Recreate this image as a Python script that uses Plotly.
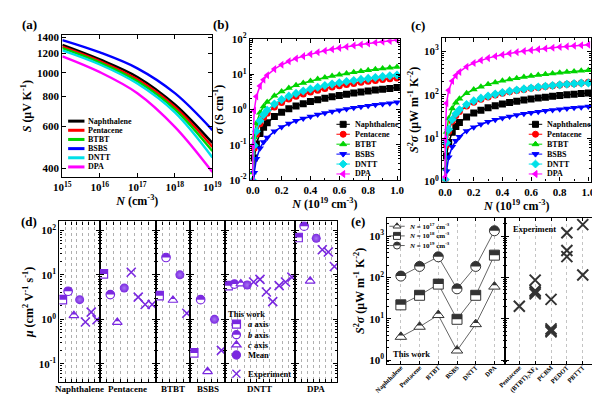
import math
import plotly.graph_objects as go

W, H = 600, 394
PURPLE = "#7a28e0"
DARK = "#333333"

# ---------------- data ----------------
materials = ["Naphthalene", "Pentacene", "BTBT", "BSBS", "DNTT", "DPA"]

# (a) Seebeck coefficient (uV/K) vs carrier concentration (cm^-3)
N_a = [1e15, 1e16, 1e17, 1e18, 1e19]
S_naphthalene = [1304, 1135, 960, 738, 511]
S_pentacene = [1283, 1117, 938, 721, 492]
S_btbt = [1264, 1101, 921, 705, 473]
S_bsbs = [1365, 1213, 1042, 822, 578]
S_dntt = [1237, 1081, 901, 684, 445]
S_dpa = [1169, 1005, 822, 596, 387]

# (b), (c) carrier concentration in 1e19 cm^-3
N_bc = [0.0001, 0.001, 0.01, 0.025, 0.05, 0.075, 0.1, 0.15, 0.2, 0.25, 0.3, 0.35, 0.4,
        0.45, 0.5, 0.55, 0.6, 0.65, 0.7, 0.75, 0.8, 0.85, 0.9, 0.95, 1.0]
# (b) conductivity (S/cm)
sigma_naphthalene = [0.00042, 0.0042, 0.042, 0.105, 0.21, 0.315, 0.42, 0.63, 0.84, 1.05, 1.26, 1.47, 1.68,
                     1.89, 2.1, 2.31, 2.52, 2.73, 2.94, 3.15, 3.36, 3.57, 3.78, 3.99, 4.2]
sigma_pentacene = [0.00079, 0.0079, 0.079, 0.198, 0.395, 0.593, 0.79, 1.19, 1.58, 1.98, 2.37, 2.77, 3.16,
                   3.56, 3.95, 4.35, 4.74, 5.14, 5.53, 5.93, 6.32, 6.72, 7.11, 7.51, 7.9]
sigma_btbt = [0.00163, 0.0163, 0.163, 0.408, 0.815, 1.22, 1.63, 2.45, 3.26, 4.08, 4.89, 5.71, 6.52,
              7.34, 8.15, 8.97, 9.78, 10.6, 11.4, 12.2, 13.0, 13.9, 14.7, 15.5, 16.3]
sigma_bsbs = [0.00016, 0.0016, 0.016, 0.04, 0.08, 0.12, 0.16, 0.24, 0.32, 0.4, 0.48, 0.56, 0.64,
              0.72, 0.8, 0.88, 0.96, 1.04, 1.12, 1.2, 1.28, 1.36, 1.44, 1.52, 1.6]
sigma_dntt = [0.00096, 0.0096, 0.096, 0.24, 0.48, 0.72, 0.96, 1.44, 1.92, 2.4, 2.88, 3.36, 3.84,
              4.32, 4.8, 5.28, 5.76, 6.24, 6.72, 7.2, 7.68, 8.16, 8.64, 9.12, 9.6]
sigma_dpa = [0.0094, 0.094, 0.94, 2.35, 4.7, 7.05, 9.4, 14.1, 18.8, 23.5, 28.2, 32.9, 37.6,
             42.3, 47.0, 51.7, 56.4, 61.1, 65.8, 70.5, 75.2, 79.9, 84.6, 89.3, 94.0]
# (c) power factor (uW m^-1 K^-2)
pf_naphthalene = [0.071, 0.54, 3.87, 7.98, 13.6, 18.5, 22.9, 30.7, 37.7, 44.1, 50.0, 55.6, 60.7,
                  65.8, 70.4, 75.1, 79.3, 83.5, 87.6, 91.5, 95.5, 99.1, 102.6, 106.2, 109.7]
pf_pentacene = [0.13, 0.99, 6.95, 14.3, 24.4, 33.2, 41.1, 54.9, 67.2, 78.4, 88.8, 98.2, 107.4,
                116.1, 124.3, 132.2, 139.8, 147.0, 153.9, 160.6, 167.0, 173.3, 179.5, 185.4, 193.0]
pf_btbt = [0.26, 1.98, 13.8, 28.4, 48.3, 65.5, 81.0, 107.9, 131.5, 153.0, 172.7, 191.1, 208.4,
           224.7, 240.1, 255.0, 269.0, 282.5, 295.6, 308.1, 320.2, 332.0, 343.2, 354.0, 364.7]
pf_bsbs = [0.030, 0.235, 1.74, 3.64, 6.31, 8.66, 10.8, 14.6, 17.9, 21.0, 23.9, 26.6, 29.2,
           31.6, 33.9, 36.2, 38.4, 40.4, 42.5, 44.4, 46.3, 48.2, 50.0, 51.7, 53.5]
pf_dntt = [0.147, 1.12, 7.79, 15.9, 26.9, 36.4, 44.9, 59.3, 71.9, 83.2, 93.6, 103.1, 112.0,
           120.4, 128.2, 135.8, 142.9, 149.6, 156.1, 162.4, 168.3, 174.2, 179.6, 184.9, 186.0]
pf_dpa = [1.28, 9.49, 63.5, 126.0, 207.2, 274.7, 333.9, 440.9, 534.3, 618.0, 694.6, 765.3, 831.3,
          893.1, 951.3, 1006.8, 1059.4, 1109.6, 1157.4, 1203.4, 1247.5, 1289.9, 1330.7, 1369.6, 1407.8]

# (d) mobility (cm^2 V^-1 s^-1), per material
mu_a_axis = [2.77, 10.5, 3.4, 0.176, 5.7, 69]
mu_b_axis = [4.27, 3.6, 24.5, 2.77, 6.2, 124]
mu_c_axis = [1.22, 0.86, 2.7, 0.067, 6.3, 7.3]
mu_mean = [2.77, 5.05, 10.0, 1.0, 5.9, 66]
mu_experiment = [[0.87, 1.45, 0.98],
                 [11.4, 3.16, 2.15, 2.15],
                 [1.37],
                 [0.2],
                 [6.9, 7.9, 4.1, 2.5, 5.7, 6.9, 8.9],
                 [36.7, 32.5, 15.4]]

# (e) power factor at fixed N (this work) and experiments
pf_N1e17 = [3.65, 6.4, 12.3, 1.7, 7.4, 60]
pf_N1e18 = [21.7, 37, 69, 9.7, 37, 347]
pf_N1e19 = [108, 185, 316, 53, 185, 1350]
exp_materials = ["Pentacene", "(BTBT)<sub>2</sub>XF<sub>4</sub>", "PCBM", "PEDOT", "PBTTT"]
exp_pf = [[20], [86, 48, 44, 40], [29.5, 5.7, 5.2, 4.8], [1210, 450, 320], [1900, 115]]

# ---------------- styles ----------------
mat_colors = ["#000000", "#ff0000", "#00d400", "#0000ff", "#00e0e8", "#ff00ff"]
mat_symbols = ["square", "circle", "triangle-up", "triangle-down", "diamond", "triangle-left"]


def px(x):
    return x / W


def py(y):
    return 1 - y / H


def dom_x(x0, x1):
    return [x0 / W, x1 / W]


def dom_y(top, bottom):
    return [1 - bottom / H, 1 - top / H]


def poly_path(pts):
    return "M " + " L ".join(f"{x:.2f},{y:.2f}" for x, y in pts) + " Z"


def glyph_polygon(kind, r):
    a = 2 * r / math.sqrt(3)
    if kind == "square":
        return [(-r, -r), (r, -r), (r, r), (-r, r)]
    if kind == "triangle-up":
        return [(-a, -r / 2), (a, -r / 2), (0, r)]
    if kind == "triangle-down":
        return [(-a, r / 2), (a, r / 2), (0, -r)]
    if kind == "triangle-left":
        return [(r / 2, -a), (r / 2, a), (-r, 0)]
    if kind == "diamond":
        d = 1.3 * r
        return [(d, 0), (0, d), (-d, 0), (0, -d)]
    return []


def clip_upper(pts):
    ys = [p[1] for p in pts]
    ym = (min(ys) + max(ys)) / 2
    out = []
    n = len(pts)
    for i in range(n):
        p, q = pts[i], pts[(i + 1) % n]
        pin, qin = p[1] >= ym, q[1] >= ym
        if pin:
            out.append(p)
        if pin != qin:
            t = (ym - p[1]) / (q[1] - p[1])
            out.append((p[0] + t * (q[0] - p[0]), ym))
    return out


def circle_upper_path(r):
    k = 0.5523 * r
    return (f"M {-r:.2f},0 C {-r:.2f},{k:.2f} {-k:.2f},{r:.2f} 0,{r:.2f} "
            f"C {k:.2f},{r:.2f} {r:.2f},{k:.2f} {r:.2f},0 Z")


def glyph_shapes(kind, xref, yref, x, y, r, color, style, lw=1.0):
    common = dict(xref=xref, yref=yref, xsizemode="pixel", ysizemode="pixel",
                  xanchor=x, yanchor=y, layer="above")
    out = []
    if style in ("full", "open", "half"):
        fill = color if style == "full" else "white"
        if kind == "circle":
            out.append(dict(type="circle", x0=-r, x1=r, y0=-r, y1=r, fillcolor=fill,
                            line=dict(color=color, width=lw), **common))
        elif kind == "x":
            out.append(dict(type="path", path=f"M {-r},{-r} L {r},{r} M {-r},{r} L {r},{-r}",
                            fillcolor="rgba(0,0,0,0)", line=dict(color=color, width=lw), **common))
        else:
            out.append(dict(type="path", path=poly_path(glyph_polygon(kind, r)), fillcolor=fill,
                            line=dict(color=color, width=lw), **common))
    if style in ("half", "halffill"):
        path = circle_upper_path(r) if kind == "circle" else poly_path(clip_upper(glyph_polygon(kind, r)))
        out.append(dict(type="path", path=path, fillcolor=color, line=dict(width=0), **common))
    return out


def log_minor(lo, hi):
    return [m * 10 ** e for e in range(lo, hi + 1) for m in range(2, 10)]


def pow_text(e):
    return f"10<sup>{e}</sup>"


fig = go.Figure()
shapes = []
annotations = []

# ---------------- (a) ----------------
S_all = [S_naphthalene, S_pentacene, S_btbt, S_bsbs, S_dntt, S_dpa]
for name, col, S in zip(materials, mat_colors, S_all):
    fig.add_trace(go.Scatter(x=N_a, y=S, mode="lines", name=name,
                             line=dict(color=col, width=2.4, shape="spline"),
                             xaxis="x", yaxis="y"))

# ---------------- (b) and (c) ----------------
sig_all = [sigma_naphthalene, sigma_pentacene, sigma_btbt, sigma_bsbs, sigma_dntt, sigma_dpa]
pf_all = [pf_naphthalene, pf_pentacene, pf_btbt, pf_bsbs, pf_dntt, pf_dpa]
for name, col, sym, sig, pf in zip(materials, mat_colors, mat_symbols, sig_all, pf_all):
    fig.add_trace(go.Scatter(x=N_bc, y=sig, mode="lines+markers", name=name,
                             line=dict(color=col, width=1.5),
                             marker=dict(symbol=sym, size=7, color=col, line=dict(width=0)),
                             xaxis="x2", yaxis="y2"))
    fig.add_trace(go.Scatter(x=N_bc, y=pf, mode="lines+markers", name=name,
                             line=dict(color=col, width=1.5),
                             marker=dict(symbol=sym, size=7, color=col, line=dict(width=0)),
                             xaxis="x3", yaxis="y3"))

# ---------------- (d) ----------------
for g in range(len(materials)):
    xa, ya = f"x{4 + g}", f"y{4 + g}"
    vals = [("square", mu_a_axis[g]), ("circle", mu_b_axis[g]), ("triangle-up", mu_c_axis[g])]
    for i, (sym, v) in enumerate(vals):
        xv = i + 0.5
        fig.add_trace(go.Scatter(x=[xv], y=[v], mode="markers",
                                 marker=dict(symbol=sym, size=8.5, color="white",
                                             line=dict(color=PURPLE, width=1.2)),
                                 xaxis=xa, yaxis=ya))
        shapes += glyph_shapes(sym, xa, ya, xv, v, 4.25, PURPLE, "halffill")
    fig.add_trace(go.Scatter(x=[3.5], y=[mu_mean[g]], mode="markers",
                             marker=dict(symbol="circle", size=9, color=PURPLE,
                                         gradient=dict(type="radial", color="#a774f2"),
                                         line=dict(width=0)),
                             xaxis=xa, yaxis=ya))
    ex = mu_experiment[g]
    fig.add_trace(go.Scatter(x=[4.5 + k for k in range(len(ex))], y=ex, mode="markers",
                             marker=dict(symbol="x-thin", size=9, color=PURPLE,
                                         line=dict(color=PURPLE, width=1.6)),
                             xaxis=xa, yaxis=ya))

# ---------------- (e) ----------------
cats = list(range(len(materials)))
for pf, sym in [(pf_N1e17, "triangle-up"), (pf_N1e18, "square"), (pf_N1e19, "circle")]:
    fig.add_trace(go.Scatter(x=cats, y=pf, mode="lines+markers",
                             line=dict(color="#666666", width=1),
                             marker=dict(symbol=sym, size=10, color="white",
                                         line=dict(color=DARK, width=1)),
                             xaxis="x10", yaxis="y10"))
    for xv, v in zip(cats, pf):
        shapes += glyph_shapes(sym, "x10", "y10", xv, v, 5, DARK, "halffill")
for i, vals in enumerate(exp_pf):
    fig.add_trace(go.Scatter(x=[i] * len(vals), y=vals, mode="markers",
                             marker=dict(symbol="x-thin", size=11, color=DARK,
                                         line=dict(color=DARK, width=2)),
                             xaxis="x11", yaxis="y11"))

# ---------------- axes ----------------
def base_axis(**kw):
    d = dict(showline=True, linecolor="black", linewidth=1.2, mirror="ticks",
             ticks="inside", tickcolor="black", ticklen=4, tickwidth=1,
             showgrid=False, zeroline=False, tickfont=dict(size=11))
    d.update(kw)
    return d


TF = dict(size=12)
layout_axes = {}
# (a)
layout_axes["xaxis"] = base_axis(domain=dom_x(43, 199), anchor="y", type="log", range=[15, 19],
                                 tickmode="array", tickvals=N_a, ticktext=[pow_text(e) for e in range(15, 20)],
                                 title=dict(text="<i>N</i> (cm<sup>-3</sup>)", font=TF, standoff=2))
layout_axes["yaxis"] = base_axis(domain=dom_y(20, 167), anchor="x", type="log", range=[2.567, 3.155],
                                 tickmode="array", tickvals=[400, 600, 800, 1000, 1200, 1400],
                                 ticktext=["400", "600", "800", "1000", "1200", "1400"],
                                 title=dict(text="<i>S</i> (μV K<sup>-1</sup>)", font=TF, standoff=2))
# (b), (c)
lin_ticks = [0, 0.2, 0.4, 0.6, 0.8, 1.0]
lin_text = ["0.0", "0.2", "0.4", "0.6", "0.8", "1.0"]
for ax, dx, dy, yr, ylo, yhi, ytitle in [
        ("2", (238, 394), (24, 170), [-2, 2], -2, 2, "<i>σ</i> (S cm<sup>-1</sup>)"),
        ("3", (438, 593), (23, 171.7), [0, 3.3], 0, 3,
         "<i>S</i><sup>2</sup><i>σ</i> (μW m<sup>-1</sup> K<sup>-2</sup>)")]:
    layout_axes["xaxis" + ax] = base_axis(domain=dom_x(*dx), anchor="y" + ax, range=[-0.02, 1.02],
                                          tickmode="array", tickvals=lin_ticks, ticktext=lin_text,
                                          minor=dict(ticks="inside", ticklen=2, dtick=0.1, tickcolor="black"),
                                          title=dict(text="<i>N</i> (10<sup>19</sup> cm<sup>-3</sup>)", font=TF, standoff=2))
    layout_axes["yaxis" + ax] = base_axis(domain=dom_y(*dy), anchor="x" + ax, type="log", range=yr,
                                          tickmode="array", tickvals=[10 ** e for e in range(ylo, yhi + 1)],
                                          ticktext=[pow_text(e) for e in range(ylo, yhi + 1)],
                                          minor=dict(ticks="inside", ticklen=2, tickcolor="black",
                                                     tickmode="array", tickvals=log_minor(ylo - 1, yhi)),
                                          title=dict(text=ytitle, font=TF, standoff=2))
# (d)
d_edges = [40, 82, 140, 176, 212, 285, 329]
for g in range(len(materials)):
    n = 4 + len(mu_experiment[g])
    yax = base_axis(domain=dom_y(213, 380), anchor=f"x{4 + g}", type="log",
                    range=[-1.42, 2.2], tickmode="array",
                    tickvals=[0.1, 1, 10, 100],
                    ticktext=[pow_text(-1), pow_text(0), pow_text(1), pow_text(2)],
                    showticklabels=(g == 0),
                    minor=dict(ticks="inside", ticklen=2, tickcolor="black",
                               tickmode="array", tickvals=log_minor(-2, 2)))
    if g == 0:
        yax["title"] = dict(text="<i>μ</i> (cm<sup>2</sup> V<sup>-1</sup> s<sup>-1</sup>)", font=TF, standoff=2)
    layout_axes[f"yaxis{4 + g}"] = yax
    layout_axes[f"xaxis{4 + g}"] = base_axis(domain=dom_x(d_edges[g], d_edges[g + 1]), anchor=f"y{4 + g}",
                                            range=[0, n], tickmode="linear", tick0=0, dtick=1,
                                            showticklabels=False, ticklen=3,
                                            showgrid=True, gridcolor="#b0b0b0", griddash="dot", gridwidth=1)
    annotations.append(dict(text=materials[g], xref=f"x{4 + g} domain", x=0.5, yref="paper", y=py(386.5),
                            showarrow=False, xanchor="center", yanchor="middle", font=dict(size=9)))
# (e)
layout_axes["xaxis10"] = base_axis(domain=dom_x(381, 503), anchor="y10", range=[-0.72, 5.55],
                                   tickmode="array", tickvals=cats, ticktext=materials, tickangle=-45,
                                   tickfont=dict(size=6.5), ticklen=3, ticklabelstandoff=-4,
                                   showgrid=True, gridcolor="#c4c4c4", griddash="dot")
layout_axes["yaxis10"] = base_axis(domain=dom_y(209, 361), anchor="x10", type="log", range=[-0.1, 3.45],
                                   tickmode="array", tickvals=[1, 10, 100, 1000],
                                   ticktext=[pow_text(e) for e in range(0, 4)],
                                   minor=dict(ticks="inside", ticklen=2, tickcolor="black",
                                              tickmode="array", tickvals=log_minor(-1, 3)),
                                   title=dict(text="<i>S</i><sup>2</sup><i>σ</i> (μW m<sup>-1</sup> K<sup>-2</sup>)",
                                              font=TF, standoff=2))
layout_axes["xaxis11"] = base_axis(domain=dom_x(503, 598), anchor="y11", range=[-0.92, 4.84],
                                   tickmode="array", tickvals=list(range(len(exp_materials))),
                                   ticktext=exp_materials, tickangle=-45, tickfont=dict(size=6.5), ticklen=3,
                                   ticklabelstandoff=-4,
                                   showgrid=True, gridcolor="#c4c4c4", griddash="dot")
layout_axes["yaxis11"] = base_axis(domain=dom_y(209, 361), anchor="x11", type="log", range=[-0.1, 3.45],
                                   tickmode="array", tickvals=[1, 10, 100, 1000], showticklabels=False,
                                   minor=dict(ticks="inside", ticklen=2, tickcolor="black",
                                              tickmode="array", tickvals=log_minor(-1, 3)))

# ---------------- legends (drawn by hand) ----------------
LF = dict(size=8)
# (a)
for i, (name, col) in enumerate(zip(materials, mat_colors)):
    yy = 109 + 9.5 * i
    shapes.append(dict(type="line", xref="paper", yref="paper", x0=px(49), x1=px(66), y0=py(yy), y1=py(yy),
                       line=dict(color=col, width=3)))
    annotations.append(dict(text=name, xref="paper", yref="paper", x=px(68), y=py(yy), showarrow=False,
                            xanchor="left", yanchor="middle", font=LF))
# (b), (c)
for x0 in (328, 528):
    for i, (name, col, sym) in enumerate(zip(materials, mat_colors, mat_symbols)):
        yy = 112.3 + 10.3 * i
        shapes.append(dict(type="line", xref="paper", yref="paper", x0=px(x0), x1=px(x0 + 14),
                           y0=py(yy), y1=py(yy), line=dict(color=col, width=1)))
        shapes += glyph_shapes(sym, "paper", "paper", px(x0 + 7), py(yy), 3, col, "full")
        annotations.append(dict(text=name, xref="paper", yref="paper", x=px(x0 + 17), y=py(yy),
                                showarrow=False, xanchor="left", yanchor="middle", font=LF))
# (d)
annotations.append(dict(text="This work", xref="paper", yref="paper", x=px(234), y=py(309), showarrow=False,
                        xanchor="center", yanchor="middle", font=dict(size=8.5)))
d_leg = [("square", 319.5, "<i>a</i> axis", "half"), ("circle", 330.5, "<i>b</i> axis", "half"),
         ("triangle-up", 341, "<i>c</i> axis", "half"), ("circle", 351.5, "Mean", "full"),
         ("x", 371, "Experiment", "open")]
for sym, yy, txt, st in d_leg:
    shapes += glyph_shapes(sym, "paper", "paper", px(224), py(yy), 4, PURPLE, st, lw=1.3)
    annotations.append(dict(text=txt, xref="paper", yref="paper", x=px(234), y=py(yy), showarrow=False,
                            xanchor="left", yanchor="middle", font=dict(size=8.5)))
# (e)
e_leg = [("triangle-up", 218, "<i>N</i> = 10<sup>17</sup> cm<sup>-3</sup>"),
         ("square", 228, "<i>N</i> = 10<sup>18</sup> cm<sup>-3</sup>"),
         ("circle", 238, "<i>N</i> = 10<sup>19</sup> cm<sup>-3</sup>")]
for sym, yy, txt in e_leg:
    shapes.append(dict(type="line", xref="paper", yref="paper", x0=px(383), x1=px(399), y0=py(yy), y1=py(yy),
                       line=dict(color="#666666", width=1)))
    shapes += glyph_shapes(sym, "paper", "paper", px(391), py(yy), 3.5, DARK, "half")
    annotations.append(dict(text=txt, xref="paper", yref="paper", x=px(401), y=py(yy), showarrow=False,
                            xanchor="left", yanchor="middle", font=dict(size=7)))
annotations.append(dict(text="This work", xref="paper", yref="paper", x=px(385), y=py(350), showarrow=False,
                        xanchor="left", yanchor="middle", font=dict(size=8.5)))
annotations.append(dict(text="Experiment", xref="paper", yref="paper", x=px(534), y=py(221), showarrow=False,
                        xanchor="center", yanchor="middle", font=dict(size=8.5)))

# panel letters
for lab, x, y in [("(a)", 9, 9), ("(b)", 208, 9), ("(c)", 413, 10), ("(d)", 8, 213), ("(e)", 350, 213)]:
    annotations.append(dict(text=lab, xref="paper", yref="paper", x=px(x), y=py(y), showarrow=False,
                            xanchor="center", yanchor="middle", font=dict(size=13)))

fig.update_layout(width=W, height=H, margin=dict(l=0, r=0, t=0, b=0),
                  paper_bgcolor="white", plot_bgcolor="white", showlegend=False,
                  font=dict(family="Liberation Serif", size=11, color="black", weight="bold"),
                  shapes=shapes, annotations=annotations, **layout_axes)

fig.write_html("out.html")
